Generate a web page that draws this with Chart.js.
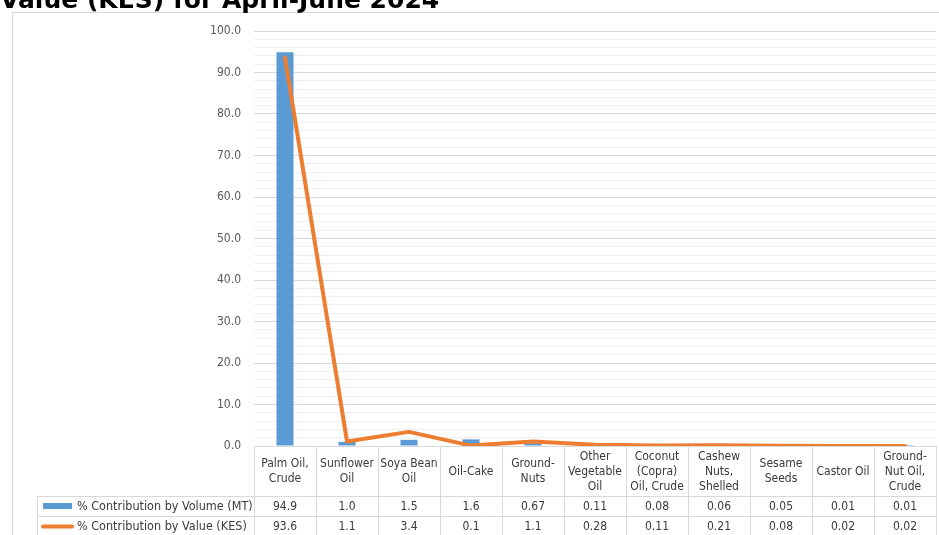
<!DOCTYPE html>
<html>
<head>
<meta charset="utf-8">
<script src="https://cdn.jsdelivr.net/npm/chart.js@4.4.1/dist/chart.umd.min.js"></script>
<style>
  html, body { margin: 0; padding: 0; background: #ffffff; overflow: hidden; }
  #wrap { position: relative; width: 939px; height: 535px; overflow: hidden; }
  #title { position: absolute; left: 0px; top: -13px; font-family: "DejaVu Sans", sans-serif; font-weight: bold; font-size: 25px; line-height: 1; color: #000; white-space: nowrap; }
  canvas { position: absolute; left: 0; top: 0; }
</style>
</head>
<body>
<div id="wrap">
  <canvas id="c" width="939" height="535"></canvas>
  <div id="title">Value (KES) for April-June 2024</div>
</div>
<script>
const categories = [
  ["Palm Oil,", "Crude"],
  ["Sunflower", "Oil"],
  ["Soya Bean", "Oil"],
  ["Oil-Cake"],
  ["Ground-", "Nuts"],
  ["Other", "Vegetable", "Oil"],
  ["Coconut", "(Copra)", "Oil, Crude"],
  ["Cashew", "Nuts,", "Shelled"],
  ["Sesame", "Seeds"],
  ["Castor Oil"],
  ["Ground-", "Nut Oil,", "Crude"]
];
const volumeShare = [94.9, 1.0, 1.5, 1.6, 0.67, 0.11, 0.08, 0.06, 0.05, 0.01, 0.01];
const valueShare = [93.6, 1.1, 3.4, 0.1, 1.1, 0.28, 0.11, 0.21, 0.08, 0.02, 0.02];
const seriesNames = ["% Contribution by Volume (MT)", "% Contribution by Value (KES)"];
const yMin = 0, yMax = 100, yMinorStep = 2, yMajorStep = 10;

const BLUE = '#5B9BD5';
const ORANGE = '#ED7D31';
const FONT = '"DejaVu Sans Condensed", "DejaVu Sans", sans-serif';

function fmt(v) { return v >= 1 ? v.toFixed(1) : String(v); }

const framePlugin = {
  id: 'frame',
  beforeDraw(chart) {
    const ctx = chart.ctx;
    ctx.save();
    ctx.fillStyle = '#ffffff';
    ctx.fillRect(0, 0, chart.width, chart.height);
    ctx.strokeStyle = '#d9d9d9';
    ctx.lineWidth = 1;
    ctx.strokeRect(12.5, 12.5, chart.width + 20, chart.height + 20);
    ctx.restore();
  }
};

const tablePlugin = {
  id: 'dataTable',
  afterDraw(chart) {
    const ctx = chart.ctx;
    const ca = chart.chartArea;
    const xs = chart.scales.x;
    const n = categories.length;
    const cw = (ca.right - ca.left) / n;
    const top = ca.bottom;
    const hdrBottom = top + 50;
    const r1 = hdrBottom + 20;
    const r2 = r1 + 20;
    const legLeft = 37;
    ctx.save();
    ctx.strokeStyle = '#d9d9d9';
    ctx.lineWidth = 1;
    ctx.beginPath();
    for (let i = 0; i <= n; i++) {
      const x = Math.round(ca.left + i * cw) + 0.5;
      ctx.moveTo(x, top);
      ctx.lineTo(x, r2 + 5);
    }
    ctx.moveTo(legLeft + 0.5, hdrBottom);
    ctx.lineTo(legLeft + 0.5, r2 + 5);
    [hdrBottom, r1, r2].forEach(y => {
      ctx.moveTo(legLeft, Math.round(y) + 0.5);
      ctx.lineTo(ca.right, Math.round(y) + 0.5);
    });
    ctx.stroke();

    ctx.fillStyle = '#3a3a3a';
    ctx.font = '12px ' + FONT;
    ctx.textAlign = 'center';
    ctx.textBaseline = 'middle';
    const hdrMid = (top + hdrBottom) / 2 + 0.5;
    const lh = 15;
    const volDs = chart.data.datasets[1];
    const valDs = chart.data.datasets[0];
    categories.forEach((lines, i) => {
      const cx = xs.getPixelForValue(i);
      const y0 = hdrMid - (lines.length - 1) * lh / 2;
      lines.forEach((t, k) => ctx.fillText(t, cx, y0 + k * lh));
      ctx.fillText(fmt(volDs.data[i]), cx, (hdrBottom + r1) / 2 + 0.5);
      ctx.fillText(fmt(valDs.data[i]), cx, (r1 + r2) / 2 + 0.5);
    });

    // legend keys
    const m1 = (hdrBottom + r1) / 2, m2 = (r1 + r2) / 2;
    ctx.fillStyle = BLUE;
    ctx.fillRect(43, m1 - 3, 29, 6);
    ctx.strokeStyle = ORANGE;
    ctx.lineWidth = 4;
    ctx.lineCap = 'round';
    ctx.beginPath();
    ctx.moveTo(43, m2 + 0.5);
    ctx.lineTo(72, m2 + 0.5);
    ctx.stroke();
    ctx.fillStyle = '#3a3a3a';
    ctx.textAlign = 'left';
    ctx.font = '12.5px ' + FONT;
    ctx.fillText(volDs.label, 77, m1 + 0.5);
    ctx.fillText(valDs.label, 77, m2 + 0.5);
    ctx.restore();
  }
};

new Chart(document.getElementById('c'), {
  data: {
    labels: categories,
    datasets: [
      {
        type: 'line',
        label: seriesNames[1],
        data: valueShare,
        borderColor: ORANGE,
        backgroundColor: ORANGE,
        borderWidth: 4,
        pointRadius: 0,
        pointHoverRadius: 0,
        tension: 0,
        borderCapStyle: 'round',
        borderJoinStyle: 'round',
        order: 0
      },
      {
        type: 'bar',
        label: seriesNames[0],
        data: volumeShare,
        backgroundColor: BLUE,
        borderWidth: 0,
        barPercentage: 0.275,
        categoryPercentage: 1.0,
        order: 1
      }
    ]
  },
  options: {
    responsive: false,
    animation: false,
    devicePixelRatio: 1,
    layout: { padding: { left: 0, right: 3, top: 31, bottom: 0 } },
    plugins: { legend: { display: false }, tooltip: { enabled: false }, title: { display: false } },
    scales: {
      x: {
        type: 'category',
        offset: true,
        grid: { display: false, drawTicks: false },
        border: { display: false },
        ticks: { display: false },
        afterFit(scale) { scale.height = 89; }
      },
      y: {
        min: yMin,
        max: yMax,
        border: { display: false },
        grid: {
          drawTicks: false,
          lineWidth: 1,
          color: (c) => (c.tick && c.tick.value % yMajorStep === 0) ? '#d9d9d9' : '#eeeeee'
        },
        ticks: {
          stepSize: yMinorStep,
          autoSkip: false,
          padding: 13,
          color: '#595959',
          font: { family: FONT, size: 12 },
          callback: (v) => (v % yMajorStep === 0) ? Number(v).toFixed(1) : ''
        },
        afterFit(scale) { scale.width = 254; }
      }
    }
  },
  plugins: [framePlugin, tablePlugin]
});
</script>
</body>
</html>
